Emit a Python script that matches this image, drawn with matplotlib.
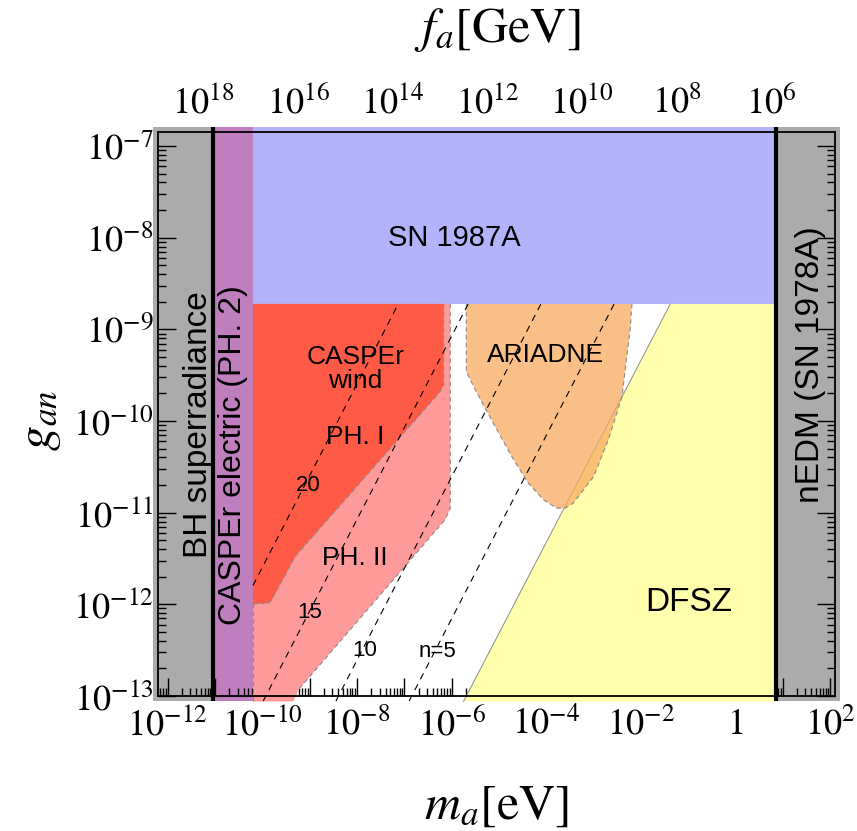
import numpy as np
import matplotlib
matplotlib.use("Agg")
import matplotlib.pyplot as plt
from matplotlib.ticker import FixedLocator, FuncFormatter, NullFormatter

plt.rcParams['mathtext.fontset'] = 'stix'
plt.rcParams['font.family'] = ['Liberation Sans', 'DejaVu Sans']

# ---- data (log10 of m_a [eV] and g_an) ----
xlim_log = (-12.2, 2.1)
ylim_log = (-13.0, -6.847)
pad_x, pad_y = 0.11, 0.055   # fills spill a little past the frame

bh_log_m = -11.05        # BH superradiance edge
caspere_log_m = -10.2    # CASPEr electric (PH. 2) right edge
nedm_log_m = 0.854       # nEDM (SN 1978A) edge
sn_log_g = -8.723        # SN 1987A bound

phI_log_m = [-10.2, -6.17, -6.17, -6.24, -9.31, -9.80, -9.87, -10.2]
phI_log_g = [-8.723, -8.723, -9.606, -9.679, -11.479, -11.951, -11.987, -11.998]

phII_log_m = [-10.2, -6.03, -6.03, -6.14, -9.24, -9.35, -10.2]
phII_log_g = [-8.723, -8.723, -10.951, -11.078, -12.932, -13.06, -13.06]

ar_log_m = [-5.69, -5.69, -5.50, -5.12, -4.73, -4.38, -4.06, -3.78, -3.60,
            -3.43, -3.00, -2.69, -2.40, -2.30, -2.23, -2.19]
ar_log_g = [-8.723, -9.461, -9.661, -10.024, -10.388, -10.678, -10.860, -10.951, -10.951,
            -10.896, -10.606, -10.206, -9.734, -9.298, -9.007, -8.723]

dfsz_log_m = [-5.75, -1.38]
dfsz_log_g = [-13.06, -8.723]

n_vals = [20, 15, 10, 5]
n_offset = [-1.595, -3.073, -4.609, -6.157]   # log g - log m for each line

x_major = list(range(-12, 3))
x_labeled = [-12, -10, -8, -6, -4, -2, 0, 2]
y_major = list(range(-13, -6))
fa_major = list(range(5, 19))
fa_labeled = [6, 8, 10, 12, 14, 16, 18]

gray = '#ababab'
purple = '#bf7fbf'
blue = '#b3b3fb'
red = '#ff5a46'
pink = '#ff9a9a'
orange = (0.972, 0.667, 0.373)
yellow = '#ffffac'
edge = '#8a8a8a'

P = lambda v: np.power(10.0, np.asarray(v, dtype=float))

fig = plt.figure(figsize=(8.57, 8.31), dpi=100)
ax = fig.add_axes([0.1847, 0.1625, 0.7896, 0.6787])
ax.set_xscale('log')
ax.set_yscale('log')
ax.set_xlim(P(xlim_log[0]), P(xlim_log[1]))
ax.set_ylim(P(ylim_log[0]), P(ylim_log[1]))

xl0, xl1 = xlim_log[0] - pad_x, xlim_log[1] + pad_x
yl0, yl1 = ylim_log[0] - pad_y, ylim_log[1] + pad_y


def box(x0, x1, y0, y1, color, z):
    ax.fill(P([x0, x1, x1, x0]), P([y0, y0, y1, y1]), color=color, lw=0,
            zorder=z, clip_on=False)


box(xl0, bh_log_m, yl0, yl1, gray, 1)
box(nedm_log_m, xl1, yl0, yl1, gray, 1)
box(bh_log_m, caspere_log_m, yl0, yl1, purple, 1.5)
box(caspere_log_m, nedm_log_m, sn_log_g, yl1, blue, 2)

# DFSZ
ax.fill(P([dfsz_log_m[0], dfsz_log_m[1], nedm_log_m, nedm_log_m]),
        P([dfsz_log_g[0], dfsz_log_g[1], dfsz_log_g[1], dfsz_log_g[0]]),
        color=yellow, lw=0, zorder=2, clip_on=False)
ax.plot(P(dfsz_log_m), P(dfsz_log_g), color=edge, lw=0.7, zorder=2.1, clip_on=False)

# CASPEr wind
ax.fill(P(phII_log_m), P(phII_log_g), color=pink, lw=0, zorder=3, clip_on=False)
ax.plot(P(phII_log_m[1:5]), P(phII_log_g[1:5]), color=edge, lw=0.8, ls=(0, (4, 3)), zorder=3.1)
ax.fill(P(phI_log_m), P(phI_log_g), color=red, lw=0, zorder=4, clip_on=False)
ax.plot(P(phI_log_m[1:8]), P(phI_log_g[1:8]), color=edge, lw=0.8, ls=(0, (4, 3)), zorder=4.1)

# ARIADNE
ax.fill(P(ar_log_m), P(ar_log_g), color=orange, alpha=0.75, lw=0, zorder=5)
ax.plot(P(ar_log_m), P(ar_log_g), color=edge, lw=0.8, ls=(0, (4, 3)), zorder=5.1)

ax.plot(P([caspere_log_m] * 2), P([yl0, sn_log_g]), color=edge, lw=0.8,
        ls=(0, (4, 3)), zorder=4.2, clip_on=False)

# lines of constant n
for n, c in zip(n_vals, n_offset):
    lo = max(caspere_log_m, yl0 - c)
    hi = sn_log_g - c
    ax.plot(P([lo, hi]), P([lo + c, hi + c]), color='black', lw=0.8,
            ls=(0, (6, 5)), zorder=6, clip_on=False)

for xv in (bh_log_m, nedm_log_m):
    ax.plot(P([xv, xv]), P([yl0, yl1]), color='black', lw=3, zorder=7,
            clip_on=False, solid_capstyle='butt')

# labels inside
txt = dict(ha='center', va='center', zorder=8, color='black')
ax.text(P(-5.95), P(-8.00), 'SN 1987A', fontsize=21, **txt)
ax.text(P(-8.04), P(-9.43), 'CASPEr\nwind', fontsize=19, linespacing=1.0, **txt)
ax.text(P(-8.04), P(-10.18), 'PH. I', fontsize=19, **txt)
ax.text(P(-8.04), P(-11.49), 'PH. II', fontsize=19, **txt)
ax.text(P(-9.03), P(-10.70), '20', fontsize=16, **txt)
ax.text(P(-9.01), P(-12.09), '15', fontsize=16, **txt)
ax.text(P(-7.83), P(-12.50), '10', fontsize=16, **txt)
ax.text(P(-6.31), P(-12.52), 'n=5', fontsize=16, **txt)
ax.text(P(-4.02), P(-9.28), 'ARIADNE', fontsize=19, **txt)
ax.text(P(-1.0), P(-11.98), 'DFSZ', fontsize=24, **txt)
ax.text(P(-11.36), P(-10.04), 'BH superradiance', fontsize=24, rotation=90, **txt)
ax.text(P(-10.62), P(-10.37), 'CASPEr electric (PH. 2)', fontsize=23, rotation=90, **txt)
ax.text(P(1.58), P(-9.38), 'nEDM (SN 1978A)', fontsize=24, rotation=90, **txt)

# axes, ticks
def exp_label(e):
    return '$1$' if e == 0 else '$10^{%d}$' % e


ax.xaxis.set_major_locator(FixedLocator(P(x_major)))
ax.xaxis.set_major_formatter(FuncFormatter(
    lambda v, p: exp_label(int(round(np.log10(v)))) if int(round(np.log10(v))) in x_labeled else ''))
ax.xaxis.set_minor_locator(FixedLocator([k * 10.0 ** e for e in range(-13, 3) for k in range(2, 10)]))
ax.xaxis.set_minor_formatter(NullFormatter())
ax.yaxis.set_major_locator(FixedLocator(P(y_major)))
ax.yaxis.set_major_formatter(FuncFormatter(lambda v, p: exp_label(int(round(np.log10(v))))))
ax.yaxis.set_minor_locator(FixedLocator([k * 10.0 ** e for e in range(-14, -6) for k in range(2, 10)]))
ax.yaxis.set_minor_formatter(NullFormatter())

ax.tick_params(which='both', direction='in', top=False, right=True, labelsize=26, width=1)
ax.tick_params(which='major', length=13)
ax.tick_params(which='minor', length=6)
ax.tick_params(axis='x', pad=8)
for s in ax.spines.values():
    s.set_linewidth(1.3)
    s.set_zorder(9)

secax = ax.secondary_xaxis('top', functions=(lambda m: 5.7e6 / m, lambda f: 5.7e6 / f))
secax.xaxis.set_major_locator(FixedLocator(P(fa_major)))
secax.xaxis.set_major_formatter(FuncFormatter(
    lambda v, p: exp_label(int(round(np.log10(v)))) if int(round(np.log10(v))) in fa_labeled else ''))
secax.xaxis.set_minor_locator(FixedLocator([k * 10.0 ** e for e in range(4, 20) for k in range(2, 10)]))
secax.xaxis.set_minor_formatter(NullFormatter())
secax.tick_params(which='both', direction='in', labelsize=26, width=1, pad=8)
secax.tick_params(which='major', length=13)
secax.tick_params(which='minor', length=6)

fig.text(497 / 857, 1 - 806 / 831, r'$m_a[\mathrm{eV}]$', fontsize=36, ha='center', va='center')
fig.text(40 / 857, 1 - 420 / 831, r'$g_{an}$', fontsize=36, ha='center', va='center', rotation=90)
fig.text(497 / 857, 1 - 30 / 831, r'$f_a[\mathrm{GeV}]$', fontsize=36, ha='center', va='center')

fig.savefig('out.png', dpi=100)
